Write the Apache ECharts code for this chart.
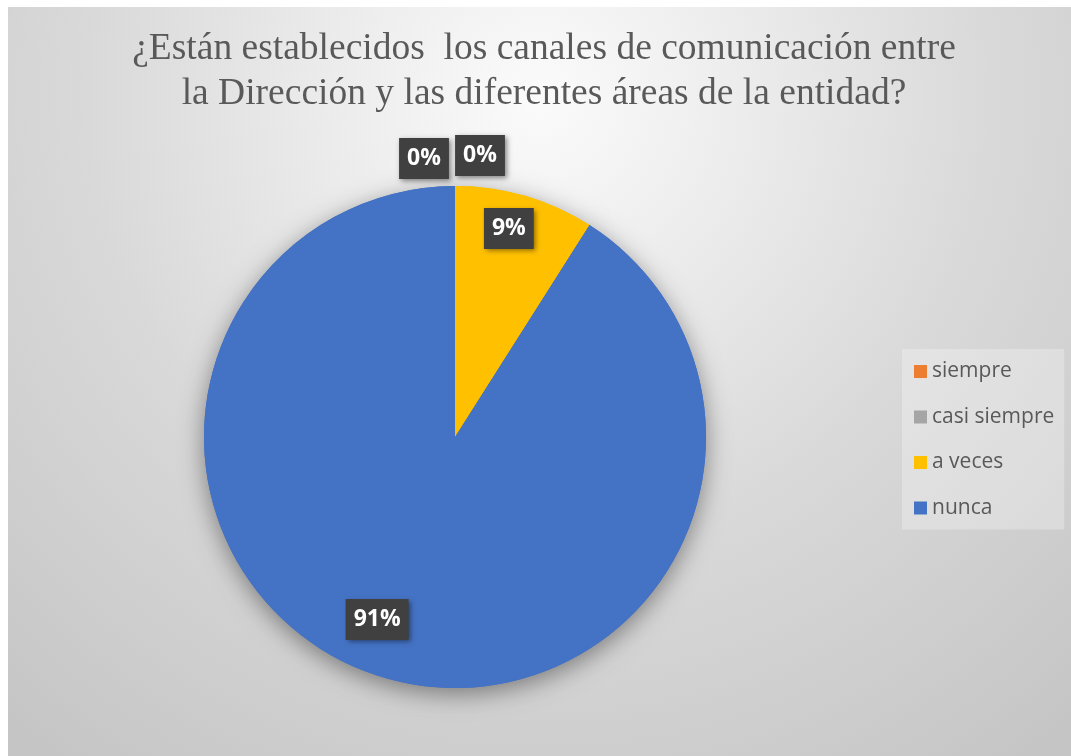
<!DOCTYPE html>
<html>
<head>
<meta charset="utf-8">
<script src="https://cdn.jsdelivr.net/npm/echarts@6/dist/echarts.min.js"></script>
<style>
  html, body { margin: 0; padding: 0; background: #ffffff; }
  #chart { width: 1071px; height: 756px; }
</style>
</head>
<body>
<div id="chart"></div>
<script>
// Survey answers and their share of responses (%)
const categories = ['siempre', 'casi siempre', 'a veces', 'nunca'];
const shares = [0, 0, 9, 91];
const sliceColors = ['#ED7D31', '#A5A5A5', '#FFC000', '#4472C4'];
const titleText = '¿Están establecidos  los canales de comunicación entre\nla Dirección y las diferentes áreas de la entidad?';

const pieData = categories.map((name, i) => ({
  name: name,
  value: shares[i],
  itemStyle: { color: sliceColors[i] }
}));

// Nudges that move each data label from its default inside spot to its final place
const labelNudge = [
  { dx: -31, dy: -150 },
  { dx: 25, dy: -153 },
  { dx: 18, dy: -85 },
  { dx: -42, dy: 59 }
];

const chart = echarts.init(document.getElementById('chart'), null, { renderer: 'canvas' });

chart.setOption({
  animation: false,
  graphic: [{
    type: 'rect',
    z: -10,
    silent: true,
    shape: { x: 8, y: 7, width: 1063, height: 749 },
    style: {
      fill: new echarts.graphic.RadialGradient(0.5, 0.12, 1.1, [
        { offset: 0, color: '#fbfbfb' },
        { offset: 0.25, color: '#ececec' },
        { offset: 0.55, color: '#d9d9d9' },
        { offset: 0.8, color: '#cecece' },
        { offset: 1, color: '#c5c5c5' }
      ])
    }
  }],
  title: {
    text: titleText,
    left: 544,
    textAlign: 'center',
    top: 27,
    padding: 0,
    textStyle: {
      fontFamily: 'Liberation Serif',
      fontWeight: 'normal',
      fontSize: 37.5,
      lineHeight: 45,
      color: '#595959'
    }
  },
  legend: {
    orient: 'vertical',
    left: 902,
    top: 349,
    padding: [12, 10, 11, 12],
    backgroundColor: 'rgba(255,255,255,0.28)',
    itemWidth: 13,
    itemHeight: 13,
    itemGap: 24.5,
    icon: 'rect',
    data: categories,
    textStyle: {
      fontFamily: 'Open Sans',
      fontSize: 21,
      lineHeight: 20,
      color: '#595959'
    }
  },
  series: [
    {
      // soft drop shadow under the whole pie
      type: 'pie',
      z: 1,
      silent: true,
      center: [455, 437],
      radius: [0, 251],
      startAngle: 90,
      label: { show: false },
      labelLine: { show: false },
      emphasis: { disabled: true },
      itemStyle: {
        shadowBlur: 24,
        shadowOffsetY: 6,
        shadowColor: 'rgba(0,0,0,0.42)'
      },
      data: pieData
    },
    {
      type: 'pie',
      z: 2,
      center: [455, 437],
      radius: [0, 251],
      startAngle: 90,
      avoidLabelOverlap: false,
      emphasis: { disabled: true },
      itemStyle: { borderWidth: 0 },
      label: {
        show: true,
        position: 'inside',
        formatter: p => p.value + '%',
        fontFamily: 'Open Sans',
        fontWeight: 'bold',
        fontSize: 23,
        lineHeight: 25,
        color: '#ffffff',
        backgroundColor: '#404040',
        padding: [8, 8, 8, 8],
        shadowBlur: 5,
        shadowOffsetX: 2,
        shadowOffsetY: 2,
        shadowColor: 'rgba(0,0,0,0.45)'
      },
      labelLine: { show: false },
      labelLayout: params => labelNudge[params.dataIndex],
      data: pieData
    }
  ]
});
</script>
</body>
</html>
